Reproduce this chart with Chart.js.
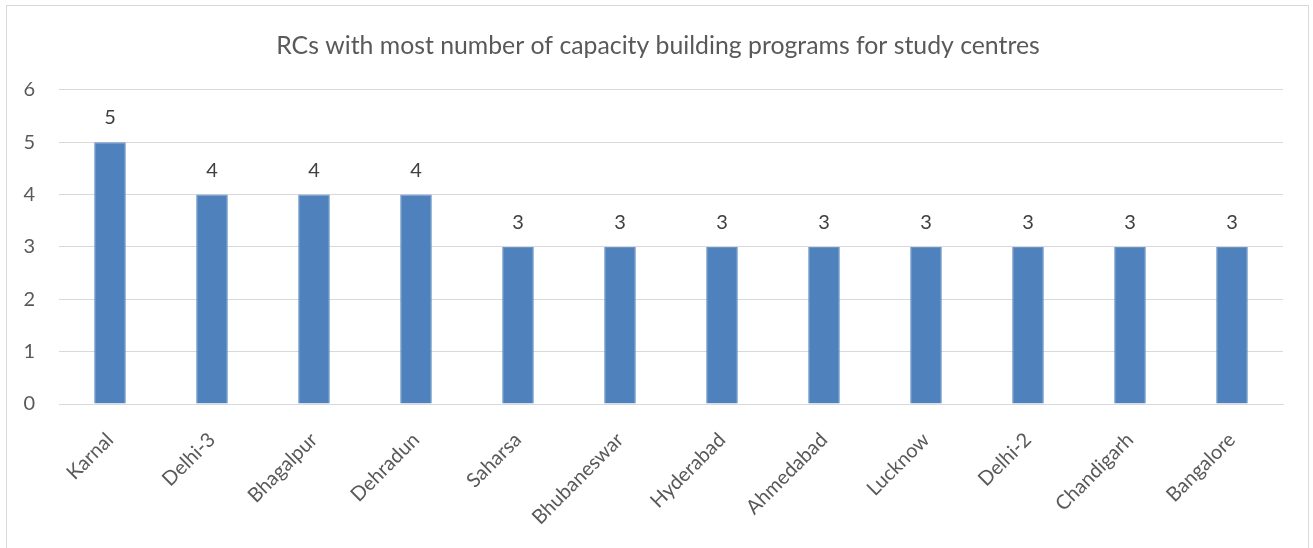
<!DOCTYPE html>
<html>
<head>
<meta charset="utf-8">
<script src="https://cdn.jsdelivr.net/npm/chart.js@4"></script>
<style>
  html, body { margin: 0; padding: 0; background: #fff; }
  #frame {
    position: absolute; left: 6px; top: 5px;
    width: 1303px; height: 548px;
    border: 1px solid #d9d9d9; border-bottom: none;
    box-sizing: border-box;
  }
  #wrap { position: absolute; left: 0; top: 0; width: 1302px; height: 543px; }
</style>
</head>
<body>
<div id="frame"><div id="wrap"><canvas id="chart"></canvas></div></div>
<script>
const centres = ['Karnal', 'Delhi-3', 'Bhagalpur', 'Dehradun', 'Saharsa', 'Bhubaneswar',
  'Hyderabad', 'Ahmedabad', 'Lucknow', 'Delhi-2', 'Chandigarh', 'Bangalore'];
const programs = [5, 4, 4, 4, 3, 3, 3, 3, 3, 3, 3, 3];
const yTicks = [0, 1, 2, 3, 4, 5, 6];

const fontFamily = 'Lato, "Open Sans", sans-serif';

// draws the number over each bar
const barValues = {
  id: 'barValues',
  afterDatasetsDraw(chart) {
    const ctx = chart.ctx;
    const meta = chart.getDatasetMeta(0);
    ctx.save();
    ctx.font = '20px ' + fontFamily;
    ctx.fillStyle = '#404040';
    ctx.textAlign = 'center';
    ctx.textBaseline = 'alphabetic';
    meta.data.forEach(function (bar, i) {
      ctx.fillText(programs[i], bar.x, bar.y - 18);
    });
    ctx.restore();
  }
};

new Chart(document.getElementById('chart'), {
  type: 'bar',
  data: {
    labels: centres,
    datasets: [{
      data: programs,
      backgroundColor: '#4f81bd',
      borderColor: '#6a95c9',
      borderWidth: 1,
      categoryPercentage: 1,
      barPercentage: 0.31
    }]
  },
  options: {
    responsive: true,
    maintainAspectRatio: false,
    animation: false,
    layout: { padding: 0 },
    plugins: {
      legend: { display: false },
      tooltip: { enabled: false },
      title: {
        display: true,
        text: 'RCs with most number of capacity building programs for study centres',
        color: '#595959',
        font: { family: fontFamily, size: 24.8, weight: 'normal' },
        padding: { top: 25, bottom: 29 }
      }
    },
    scales: {
      y: {
        min: 0,
        max: 6,
        afterBuildTicks(scale) { scale.ticks = yTicks.map(v => ({ value: v })); },
        afterFit(scale) { scale.width = 52; },
        border: { display: false },
        grid: { color: '#d9d9d9', drawTicks: false },
        ticks: {
          padding: 24,
          color: '#595959',
          font: { family: fontFamily, size: 20 }
        }
      },
      // empty right axis, only keeps the plot off the right edge
      yRight: {
        position: 'right',
        afterFit(scale) { scale.width = 26; },
        border: { display: false },
        grid: { display: false, drawTicks: false },
        ticks: { display: false }
      },
      x: {
        afterFit(scale) { scale.height = 145; },
        border: { display: true, color: '#d9d9d9', width: 1 },
        grid: { display: false, drawTicks: false },
        ticks: {
          padding: 24,
          minRotation: 45,
          maxRotation: 45,
          autoSkip: false,
          color: '#595959',
          font: { family: fontFamily, size: 20 }
        }
      }
    }
  },
  plugins: [barValues]
});
</script>
</body>
</html>
